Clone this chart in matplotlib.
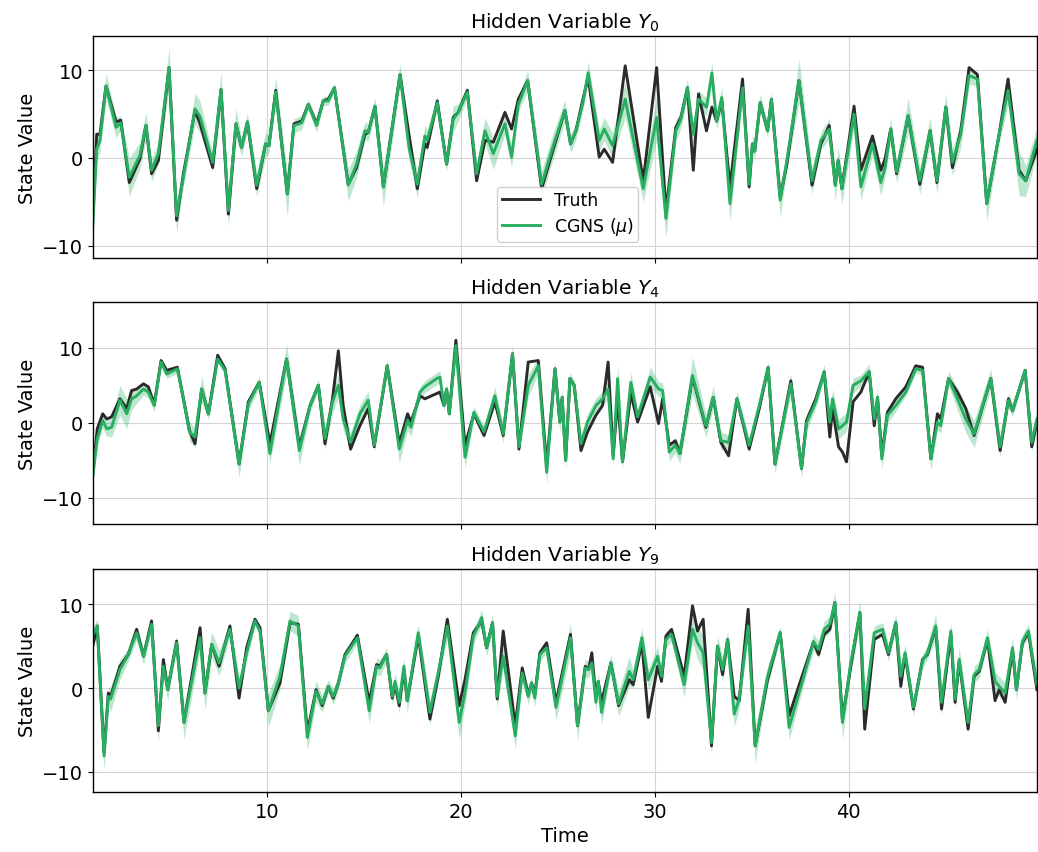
import numpy as np
import matplotlib
matplotlib.use("Agg")
import matplotlib.pyplot as plt

# ---------------- data ----------------
t0 = [1.00, 1.22, 1.39, 1.70, 2.22, 2.46, 2.90, 3.45, 3.76, 4.05,
      4.40, 4.95, 5.34, 5.69, 6.29, 6.55, 7.20, 7.63, 8.01, 8.40,
      8.69, 8.99, 9.47, 9.93, 10.10, 10.45, 11.05, 11.39, 11.79, 12.13,
      12.56, 12.90, 13.16, 13.48, 14.19, 14.62, 15.05, 15.22, 15.57, 16.00,
      16.86, 17.32, 17.75, 18.14, 18.26, 18.78, 19.26, 19.60, 19.86, 20.33,
      20.81, 21.24, 21.67, 22.27, 22.61, 22.96, 23.44, 24.16, 24.76, 25.36,
      25.65, 25.93, 26.27, 26.56, 27.13, 27.39, 27.82, 28.47, 29.40, 30.09,
      30.57, 31.08, 31.34, 31.68, 31.98, 32.25, 32.66, 32.94, 33.18, 33.45,
      33.87, 34.52, 34.86, 35.03, 35.15, 35.43, 35.81, 36.01, 36.46, 36.79,
      37.43, 38.10, 38.56, 38.99, 39.30, 39.45, 39.64, 40.27, 40.62, 41.22,
      41.65, 41.87, 42.16, 42.46, 43.06, 43.66, 44.19, 44.54, 45.00, 45.34,
      45.77, 46.20, 46.63, 47.11, 47.75, 48.21, 48.78, 49.12, 49.70]
truth0 = [-7.5, 2.7, 2.7, 8.2, 4.1, 4.3, -2.8, -0.1, 3.7, -1.8,
          -0.3, 10.3, -7.1, -1.8, 5.4, 3.9, -1.1, 7.8, -6.4, 3.9,
          1.2, 4.1, -3.5, 1.6, 1.4, 7.7, -4.1, 3.9, 4.2, 6.1,
          3.9, 6.5, 6.7, 8.0, -3.0, -1.1, 2.7, 2.9, 5.9, -3.3,
          9.5, 2.7, -3.5, 1.6, 1.2, 6.5, -0.7, 4.6, 5.2, 7.7,
          -2.6, 2.0, 1.8, 5.2, 3.3, 6.7, 8.8, -3.5, 1.0, 5.4,
          1.6, 3.1, 6.5, 9.2, 0.1, 1.0, -0.5, 10.5, -2.6, 10.3,
          -6.0, 3.5, 4.6, 8.0, -1.4, 7.3, 3.1, 5.8, 4.2, 6.5,
          -3.3, 9.0, -3.3, 1.6, 0.8, 6.3, 3.1, 6.7, -4.5, -0.9,
          8.8, -3.1, 1.6, 3.7, -3.1, -0.3, -3.5, 5.9, -1.4, 2.5,
          -1.4, -0.1, 3.3, -1.8, 4.8, -3.0, 3.1, -2.8, 5.8, -1.1,
          3.1, 10.3, 9.5, -5.2, 2.7, 9.0, -1.4, -2.6, 1.0]
mu0 = [-8.5, 1.0, 2.0, 8.2, 3.5, 4.0, -2.2, 0.3, 3.7, -1.4,
       0.5, 10.3, -6.6, -2.2, 5.6, 4.7, -0.5, 7.8, -6.0, 3.9,
       1.2, 4.1, -3.1, 1.6, 1.4, 7.5, -4.1, 3.7, 4.0, 6.1,
       3.7, 6.5, 6.5, 8.0, -3.1, -0.7, 3.1, 2.9, 5.9, -3.3,
       9.5, 1.2, -3.0, 2.5, 2.0, 6.3, -0.7, 4.4, 5.2, 7.5,
       -1.8, 3.1, 0.5, 3.9, 0.1, 6.1, 8.8, -3.0, 1.4, 5.4,
       1.6, 3.1, 6.1, 9.7, 2.0, 3.3, 1.4, 6.7, -3.5, 4.6,
       -6.9, 3.1, 4.4, 8.0, 2.7, 6.7, 5.8, 9.7, 4.2, 6.9,
       -5.2, 8.0, -3.0, 1.6, 0.8, 6.3, 3.1, 6.7, -4.8, -0.5,
       8.8, -2.6, 2.0, 3.3, -3.1, -0.3, -3.5, 5.0, -3.3, 1.6,
       -2.8, -1.1, 3.3, -1.6, 4.8, -2.6, 3.1, -2.6, 5.8, -0.5,
       2.7, 9.4, 9.0, -5.2, 2.7, 7.7, -1.8, -2.6, 2.0]
sd0 = [1.5, 1.5, 1.2, 1.5, 1.2, 0.8, 2.2, 1.5, 1.5, 1.3,
       1.2, 2.3, 1.9, 1.0, 1.8, 1.8, 1.0, 2.0, 1.8, 1.8,
       1.0, 1.0, 1.3, 1.5, 0.8, 1.7, 2.5, 0.8, 0.8, 0.6,
       0.8, 0.5, 0.5, 0.5, 1.8, 1.5, 1.0, 1.0, 1.0, 2.2,
       1.2, 1.5, 1.5, 1.2, 1.2, 0.8, 0.8, 1.5, 1.0, 0.7,
       1.0, 1.5, 1.8, 1.2, 1.2, 0.8, 1.2, 1.5, 1.5, 1.2,
       1.0, 1.0, 0.8, 1.3, 1.2, 1.3, 1.5, 2.0, 1.5, 2.5,
       2.2, 1.2, 1.0, 1.0, 1.2, 1.0, 1.0, 1.2, 1.0, 1.2,
       2.0, 1.0, 1.0, 1.0, 1.0, 1.0, 0.8, 0.8, 2.0, 1.0,
       2.5, 1.5, 1.0, 1.2, 1.8, 1.5, 1.8, 1.5, 1.5, 1.2,
       1.5, 1.0, 1.3, 1.3, 2.0, 1.5, 1.5, 1.5, 1.5, 1.5,
       1.5, 1.0, 0.8, 2.0, 1.0, 1.6, 2.5, 1.8, 1.5]

t4 = [1.00, 1.25, 1.53, 1.74, 1.99, 2.42, 2.77, 3.02, 3.28, 3.63,
      3.88, 4.19, 4.54, 4.83, 5.38, 5.69, 6.00, 6.29, 6.63, 6.98,
      7.46, 7.84, 8.56, 9.04, 9.60, 10.15, 11.01, 11.67, 12.22, 12.65,
      12.99, 13.38, 13.68, 13.93, 14.31, 14.79, 15.22, 15.53, 16.20, 16.82,
      17.25, 17.42, 17.89, 18.14, 18.75, 18.92, 19.12, 19.26, 19.40, 19.74,
      20.21, 20.67, 21.19, 21.75, 22.18, 22.66, 22.99, 23.47, 23.99, 24.42,
      24.85, 25.10, 25.22, 25.40, 25.62, 25.84, 26.19, 26.53, 26.96, 27.30,
      27.59, 27.85, 28.08, 28.33, 28.76, 29.11, 29.76, 30.19, 30.40, 30.74,
      31.05, 31.29, 31.94, 32.63, 33.01, 33.40, 33.80, 34.23, 34.86, 35.38,
      35.84, 36.19, 37.01, 37.56, 37.82, 38.30, 38.73, 39.02, 39.16, 39.47,
      39.67, 39.88, 40.22, 40.62, 41.05, 41.31, 41.48, 41.70, 41.99, 42.42,
      42.94, 43.45, 43.80, 44.23, 44.57, 44.74, 45.14, 45.60, 46.03, 46.46,
      47.32, 47.80, 48.23, 48.44, 49.09, 49.43, 49.70]
truth4 = [-7.0, -0.8, 1.2, 0.5, 0.8, 3.2, 1.9, 4.3, 4.5, 5.2,
          4.8, 2.5, 8.3, 7.0, 7.4, 3.2, -1.0, -2.8, 4.5, 1.2,
          9.0, 7.2, -5.5, 2.8, 5.4, -2.8, 8.5, -3.2, 2.3, 5.0,
          -2.8, 3.2, 9.6, 2.3, -3.5, -0.4, 1.9, -3.2, 7.6, -2.8,
          1.2, 0.1, 3.6, 3.2, 3.9, 4.1, 2.3, 4.5, 1.2, 11.0,
          -3.0, 1.2, -1.7, 2.8, -1.7, 9.2, -3.5, 8.1, 8.3, -5.7,
          7.2, 0.1, 3.4, -5.0, 5.9, 5.0, -3.7, -1.2, 1.0, 2.3,
          8.1, -4.4, 3.2, -5.2, 3.9, 0.1, 4.8, -0.1, 3.2, -3.0,
          -2.4, -4.1, 6.1, -0.6, 3.4, -2.6, -4.4, 3.2, -3.5, 1.9,
          7.4, -5.5, 5.6, -6.1, 0.3, 3.2, 6.8, -1.9, 1.9, -3.2,
          -3.9, -5.2, 2.8, 4.1, 6.8, -0.4, 3.4, -4.4, 1.4, 3.2,
          4.8, 7.6, 7.4, -4.8, 1.2, 0.5, 5.9, 4.1, 1.9, -1.7,
          5.9, -3.7, 3.2, 1.6, 7.0, -3.2, 0.1]
mu4 = [-7.5, -2.1, 0.3, -0.8, -0.6, 3.0, 1.2, 3.2, 3.6, 4.5,
       4.1, 2.3, 8.1, 6.5, 7.2, 3.2, -1.2, -1.9, 4.5, 1.2,
       8.5, 7.0, -5.5, 2.5, 5.4, -4.1, 8.5, -3.7, 2.3, 5.0,
       -2.1, 2.8, 5.0, 0.5, -2.6, 1.2, 3.0, -3.0, 7.6, -3.5,
       0.3, -0.6, 4.1, 4.8, 5.9, 6.1, 2.3, 4.5, 1.2, 10.3,
       -4.6, 1.4, -1.2, 3.6, -1.5, 9.2, -3.2, 5.0, 7.6, -6.6,
       7.2, 0.1, 3.4, -5.0, 5.9, 5.0, -2.8, 0.1, 2.3, 3.2,
       4.5, -4.8, 5.9, -5.2, 5.4, 0.8, 6.1, 4.5, 4.3, -3.9,
       -3.0, -4.1, 6.3, -0.4, 3.4, -2.4, -2.6, 3.2, -3.0, 2.3,
       7.4, -5.5, 5.2, -6.1, 0.0, 2.8, 6.8, 0.1, 3.2, -0.8,
       -0.4, 0.1, 5.0, 5.6, 6.8, 0.5, 3.4, -4.8, 1.0, 2.3,
       4.1, 7.2, 7.0, -4.8, 0.1, -0.4, 5.9, 3.2, 0.5, -1.5,
       5.9, -3.2, 3.0, 1.6, 7.0, -2.6, 0.5]
sd4 = [1.0, 1.0, 1.0, 1.0, 1.3, 2.0, 2.0, 1.5, 1.0, 0.8,
       0.8, 0.8, 0.5, 0.6, 0.6, 0.8, 1.3, 1.3, 1.8, 0.8,
       0.6, 0.6, 1.8, 0.8, 0.8, 1.2, 2.0, 2.0, 0.8, 0.8,
       1.5, 1.5, 1.5, 1.5, 1.3, 1.2, 1.2, 0.8, 0.8, 1.8,
       1.3, 1.3, 0.8, 0.8, 0.8, 0.8, 0.8, 0.8, 0.8, 1.5,
       1.5, 0.8, 0.8, 1.2, 1.2, 1.2, 1.0, 1.5, 1.0, 1.5,
       1.0, 1.5, 1.2, 1.3, 0.8, 0.6, 1.3, 1.2, 1.0, 1.0,
       1.3, 1.0, 2.0, 1.0, 1.3, 0.8, 1.3, 1.0, 1.0, 1.2,
       1.0, 1.3, 2.5, 1.5, 1.5, 1.2, 1.0, 1.0, 1.0, 0.8,
       0.8, 1.3, 1.3, 1.3, 1.2, 0.8, 1.0, 1.3, 1.3, 1.3,
       1.3, 1.2, 1.0, 0.8, 1.0, 1.0, 1.2, 1.5, 1.0, 0.8,
       0.5, 0.6, 0.6, 1.5, 1.0, 1.0, 1.0, 1.5, 1.8, 1.8,
       1.3, 1.3, 1.0, 0.8, 0.6, 1.2, 1.2]

t9 = [1.00, 1.25, 1.60, 1.82, 1.94, 2.42, 2.85, 3.28, 3.63, 4.05,
      4.40, 4.66, 4.88, 5.34, 5.72, 6.55, 6.80, 7.15, 7.53, 8.09,
      8.56, 8.95, 9.38, 9.64, 10.07, 10.67, 11.19, 11.62, 12.08, 12.53,
      12.85, 13.16, 13.42, 13.68, 14.02, 14.31, 14.66, 15.27, 15.65, 15.82,
      16.17, 16.46, 16.60, 16.82, 17.06, 17.23, 17.80, 18.40, 18.83, 19.30,
      19.91, 20.21, 20.64, 20.89, 21.07, 21.32, 21.63, 21.87, 22.18, 22.80,
      23.16, 23.47, 23.64, 23.81, 24.07, 24.42, 24.90, 25.65, 26.01, 26.41,
      26.58, 26.75, 26.96, 27.08, 27.25, 27.73, 28.13, 28.68, 28.88, 29.33,
      29.66, 30.14, 30.34, 30.57, 30.86, 31.51, 31.94, 32.20, 32.49, 32.92,
      33.23, 33.49, 33.75, 34.09, 34.35, 34.81, 35.17, 35.81, 36.46, 36.92,
      37.53, 38.18, 38.44, 38.73, 39.02, 39.28, 39.67, 40.10, 40.57, 40.82,
      41.31, 41.74, 42.04, 42.42, 42.68, 42.90, 43.33, 43.80, 44.05, 44.48,
      44.78, 45.26, 45.48, 45.69, 46.15, 46.46, 46.72, 47.15, 47.54, 47.75,
      48.06, 48.44, 48.64, 48.95, 49.26, 49.70]
truth9 = [4.8, 7.4, -7.7, -0.6, -1.0, 2.6, 4.0, 7.0, 3.8, 8.0,
          -5.1, 3.4, -0.2, 5.6, -4.1, 7.2, -0.6, 5.2, 2.6, 7.4,
          -1.2, 4.8, 8.2, 7.2, -2.7, 0.6, 7.8, 7.6, -5.3, -0.2,
          -2.1, 0.2, -1.2, 0.6, 4.0, 5.0, 6.3, -1.7, 2.8, 2.6,
          4.0, -1.2, 0.4, -2.1, 2.2, -1.5, 6.2, -3.7, 1.4, 8.2,
          -2.1, 1.0, 6.6, 7.4, 8.0, 4.8, 7.8, -1.3, 6.8, -4.5,
          2.4, -0.8, 0.6, -0.8, 4.2, 5.4, -1.7, 6.4, -4.5, 2.6,
          2.2, 4.2, -1.3, 0.8, -1.7, 3.0, -2.1, 1.0, 0.4, 5.4,
          -3.5, 2.6, 0.8, 6.2, 7.0, 1.4, 9.8, 6.8, 8.2, -6.9,
          5.0, 1.6, 5.8, -1.0, -1.5, 9.4, -6.9, 1.0, 6.6, -3.3,
          1.0, 5.5, 4.0, 6.4, 7.0, 10.2, -3.7, 2.6, 9.0, -4.9,
          5.8, 6.4, 4.0, 7.8, 0.2, 4.0, -2.5, 3.4, 4.0, 7.2,
          -2.5, 6.4, -1.7, 3.2, -4.9, 1.4, 2.0, 5.8, -1.5, -0.2,
          -1.7, 4.6, -0.2, 5.4, 6.6, -0.2]
mu9 = [6.2, 7.4, -8.1, -1.0, -1.3, 2.2, 4.0, 6.6, 3.8, 7.6,
       -4.5, 2.6, -0.2, 5.4, -4.1, 6.0, -0.6, 5.2, 3.0, 7.0,
       0.0, 4.2, 8.0, 6.8, -2.7, 1.4, 8.0, 7.4, -5.9, -0.4,
       -1.9, 0.2, -1.0, 0.6, 3.8, 4.8, 6.0, -2.7, 2.6, 2.4,
       4.0, -1.0, 0.8, -1.7, 2.6, -1.5, 6.6, -2.9, 1.8, 7.4,
       -4.1, -0.6, 6.2, 7.4, 8.4, 4.8, 7.8, -1.0, 3.8, -5.7,
       1.8, -1.0, 0.6, -1.2, 4.0, 4.8, -2.3, 6.0, -4.5, 2.4,
       2.2, 3.0, -1.7, 0.8, -2.9, 3.0, -1.9, 2.0, 1.0, 6.0,
       1.0, 3.8, 1.4, 5.8, 6.4, 0.4, 7.0, 5.4, 4.2, -6.5,
       5.0, 2.2, 5.8, -3.1, -1.3, 7.4, -6.9, 1.4, 6.6, -4.7,
       0.2, 5.5, 4.6, 7.0, 7.6, 10.2, -4.1, 3.0, 9.0, -2.5,
       6.6, 7.0, 4.2, 7.8, 1.4, 4.2, -2.3, 3.2, 4.2, 7.4,
       -1.7, 6.8, -1.3, 3.4, -4.1, 1.6, 2.2, 6.0, 0.8, 0.2,
       -0.6, 4.8, -0.2, 5.6, 6.8, 0.4]
sd9 = [1.0, 0.8, 1.8, 1.0, 1.5, 1.2, 0.8, 0.8, 1.0, 0.8,
       2.0, 1.0, 1.3, 0.8, 2.0, 1.5, 2.0, 1.5, 1.5, 0.8,
       1.3, 1.0, 0.6, 0.6, 2.0, 1.5, 1.2, 1.2, 1.5, 1.3,
       1.0, 0.8, 1.0, 0.8, 0.8, 0.8, 0.6, 1.6, 1.0, 1.0,
       0.8, 1.0, 1.0, 1.3, 1.0, 1.5, 1.0, 1.5, 1.3, 1.3,
       2.0, 1.5, 1.0, 0.8, 1.0, 1.0, 1.0, 1.5, 1.2, 1.5,
       1.0, 1.0, 0.8, 1.0, 0.8, 0.6, 1.5, 1.8, 1.8, 1.0,
       1.0, 0.8, 1.3, 1.0, 1.5, 1.0, 1.5, 1.8, 1.0, 1.2,
       1.2, 1.2, 1.0, 1.0, 0.8, 1.5, 1.5, 2.0, 2.0, 1.5,
       1.3, 1.5, 1.0, 1.5, 1.2, 1.0, 2.0, 1.2, 0.8, 1.5,
       1.0, 1.0, 1.0, 1.0, 1.0, 1.3, 2.0, 1.3, 1.5, 1.2,
       0.8, 0.8, 1.0, 1.0, 1.5, 1.0, 1.0, 0.8, 0.8, 1.5,
       1.5, 1.0, 1.2, 1.5, 1.0, 1.0, 1.0, 1.0, 1.2, 1.2,
       1.2, 1.3, 1.3, 0.8, 0.8, 1.0]

titles = ["Hidden Variable $Y_0$", "Hidden Variable $Y_4$", "Hidden Variable $Y_9$"]
ylims = [(-11.4, 13.9), (-13.5, 16.1), (-12.4, 14.2)]
xlim = (1.03, 49.7)

panels = [(t0, truth0, mu0, sd0), (t4, truth4, mu4, sd4), (t9, truth9, mu9, sd9)]

# ---------------- figure ----------------
plt.rcParams['font.family'] = ['DejaVu Sans']
fig = plt.figure(figsize=(10.38, 8.53), dpi=100)

boxes = [(0.0896, 0.6964, 0.9094, 0.2602),
         (0.0896, 0.3845, 0.9094, 0.2602),
         (0.0896, 0.0703, 0.9094, 0.2615)]

green = '#27ae60'
black = '#2b2b2b'
axes = []
for i, (box, (t, tr, mu, sd)) in enumerate(zip(boxes, panels)):
    ax = fig.add_axes(box, sharex=axes[0] if axes else None)
    axes.append(ax)
    t = np.array(t); tr = np.array(tr); mu = np.array(mu); sd = np.array(sd)
    ax.fill_between(t, mu - sd, mu + sd, color=green, alpha=0.3, linewidth=0)
    ax.plot(t, tr, color=black, lw=2.1, label='Truth')
    ax.plot(t, mu, color=green, lw=2.1, label=r'CGNS ($\mu$)')
    ax.set_title(titles[i], fontsize=14.5)
    ax.set_ylabel('State Value', fontsize=14)
    ax.set_ylim(*ylims[i])
    ax.set_xlim(*xlim)
    ax.set_yticks([-10, 0, 10])
    ax.set_xticks([10, 20, 30, 40])
    ax.grid(True, color='#d5d5d5', lw=0.8)
    ax.set_axisbelow(True)
    ax.tick_params(labelsize=14)
    for s in ax.spines.values():
        s.set_color('black')
        s.set_linewidth(1.0)
    if i < 2:
        ax.tick_params(labelbottom=False)

axes[0].legend(loc='lower center', bbox_to_anchor=(0.503, 0.035), fontsize=12.5,
               framealpha=0.9, borderpad=0.25, labelspacing=0.35, handlelength=2.2)
axes[2].set_xlabel('Time', fontsize=14)

fig.savefig('out.png', dpi=100)
